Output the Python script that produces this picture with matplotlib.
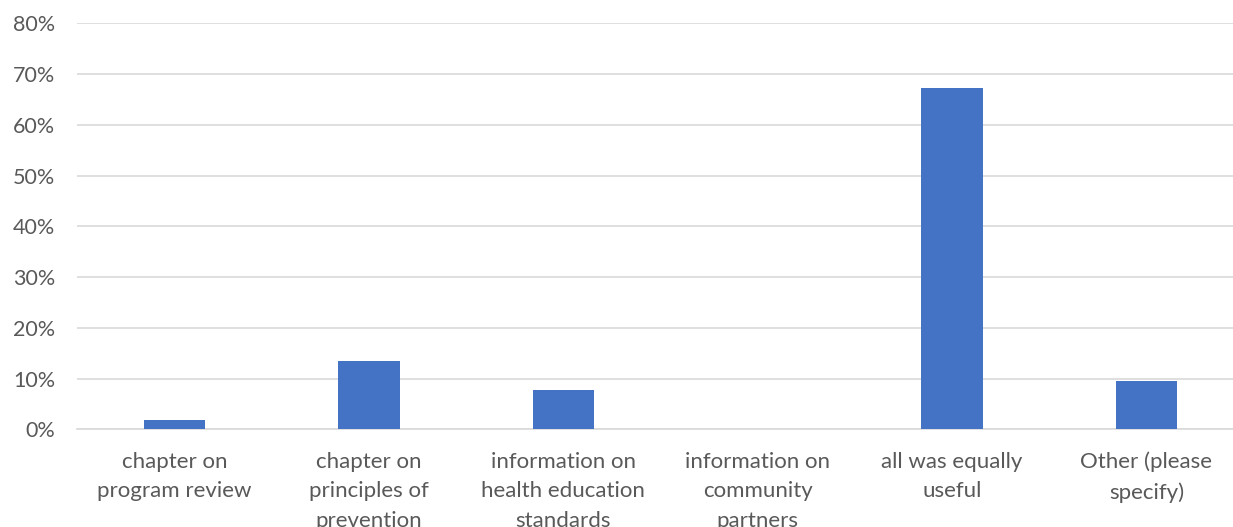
import numpy as np
import matplotlib.pyplot as plt
from matplotlib.ticker import PercentFormatter

categories = [
    "chapter on\nprogram review",
    "chapter on\nprinciples of\nprevention",
    "information on\nhealth education\nstandards",
    "information on\ncommunity\npartners",
    "all was equally\nuseful",
    "Other (please\nspecify)",
]
shares = [1.9, 13.5, 7.7, 0.0, 67.3, 9.6]

plt.rcParams["font.family"] = ["Lato", "DejaVu Sans"]

fig = plt.figure(figsize=(12.33, 5.27), dpi=100)
# axes runs a little past the right edge, as in the exported sheet
ax = fig.add_axes([77.3 / 1233, 1 - 429.3 / 527, 1166.4 / 1233, 406 / 527])

x = np.arange(len(categories))
ax.bar(x, shares, width=0.315, color="#4472C4", zorder=3)

ax.set_xlim(-0.5, len(categories) - 0.5)
ax.set_ylim(0, 80)
ax.set_yticks(np.arange(0, 81, 10))
ax.yaxis.set_major_formatter(PercentFormatter(decimals=0))
ax.set_xticks(x)
ax.set_xticklabels(categories, linespacing=1.6, fontsize=16)

ax.grid(axis="y", color="#d9d9d9", linewidth=1.2, zorder=0)
for side in ["top", "right", "left"]:
    ax.spines[side].set_visible(False)
ax.spines["bottom"].set_color("#d9d9d9")
ax.spines["bottom"].set_linewidth(1.2)

ax.tick_params(axis="both", length=0, labelcolor="#595959")
ax.tick_params(axis="y", labelsize=15.5, pad=16)
ax.tick_params(axis="x", pad=16)

fig.savefig("out.png", dpi=100)
